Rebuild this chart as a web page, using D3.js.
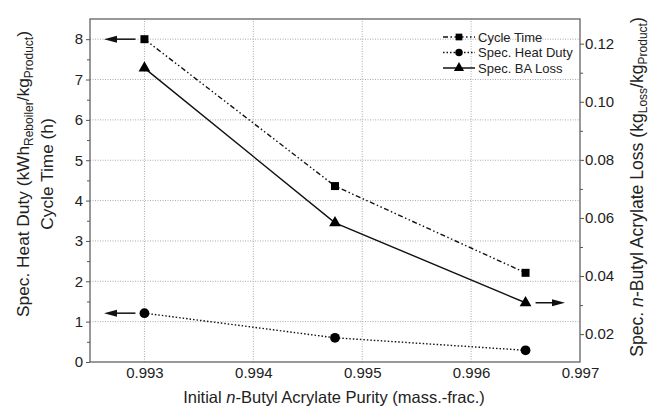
<!DOCTYPE html>
<html>
<head>
<meta charset="utf-8">
<script src="https://cdn.jsdelivr.net/npm/d3@7"></script>
<style>
  body { margin: 0; background: #fff; }
  svg text { font-family: "Liberation Sans", Arial, sans-serif; fill: #222; }
</style>
</head>
<body>
<div id="chart"></div>
<script>
// Data
const purity = [0.993, 0.99475, 0.9965]
const cycleTime = [8.0, 4.36, 2.21]
const heatDuty = [1.21, 0.6, 0.29]
const baLoss = [0.1116, 0.0583, 0.0308]

const xTicks = [0.993, 0.994, 0.995, 0.996, 0.997]
const leftTicks = [0, 1, 2, 3, 4, 5, 6, 7, 8]
const rightTicks = [0.02, 0.04, 0.06, 0.08, 0.10, 0.12]
const legendNames = ["Cycle Time", "Spec. Heat Duty", "Spec. BA Loss"]

// Set up svg
const w = 654, h = 412
const margin = {left: 90, right: 74, top: 19, bottom: 50}

const svg = d3.select("#chart").append("svg")
    .attr("width", w)
    .attr("height", h)

const x = d3.scaleLinear().domain([0.9925, 0.997]).range([margin.left, w - margin.right])
const yL = d3.scaleLinear().domain([0, 8.5]).range([h - margin.bottom, margin.top])
const yR = d3.scaleLinear().domain([0.0104, 0.1285]).range([h - margin.bottom, margin.top])

const axisCol = "#555"
const gridCol = "#aaa"

// Gridlines (dotted)
svg.append("g").selectAll("line")
    .data(xTicks.slice(0, 4))
    .join("line")
    .attr("x1", d => x(d)).attr("x2", d => x(d))
    .attr("y1", yL(0)).attr("y2", margin.top)
    .attr("stroke", gridCol).attr("stroke-dasharray", "1,1.5")
svg.append("g").selectAll("line")
    .data(leftTicks.slice(1))
    .join("line")
    .attr("x1", margin.left).attr("x2", w - margin.right)
    .attr("y1", d => yL(d)).attr("y2", d => yL(d))
    .attr("stroke", gridCol).attr("stroke-dasharray", "1,1.5")

// Frame
svg.append("rect")
    .attr("x", margin.left).attr("y", margin.top)
    .attr("width", w - margin.right - margin.left)
    .attr("height", h - margin.bottom - margin.top)
    .attr("fill", "none").attr("stroke", axisCol).attr("stroke-width", 1.2)

// Axes
function styleAxis(g) {
    g.select(".domain").remove()
    g.selectAll(".tick line").attr("stroke", axisCol)
    g.selectAll("text").style("font-size", "15px").style("fill", "#222")
}

svg.append("g")
    .attr("transform", "translate(0," + yL(0) + ")")
    .call(d3.axisBottom(x).tickValues(xTicks).tickFormat(d3.format(".3f")).tickSize(0).tickPadding(5))
    .call(styleAxis)

svg.append("g")
    .attr("transform", "translate(" + margin.left + ",0)")
    .call(d3.axisLeft(yL).tickValues(d3.range(0.5, 8.5, 1)).tickSize(3).tickFormat(""))
    .call(styleAxis)
svg.append("g")
    .attr("transform", "translate(" + margin.left + ",0)")
    .call(d3.axisLeft(yL).tickValues(leftTicks).tickSize(4).tickPadding(3).tickFormat(d3.format("d")))
    .call(styleAxis)

svg.append("g")
    .attr("transform", "translate(" + (w - margin.right) + ",0)")
    .call(d3.axisRight(yR).tickValues([0.03, 0.05, 0.07, 0.09, 0.11]).tickSize(3).tickFormat(""))
    .call(styleAxis)
svg.append("g")
    .attr("transform", "translate(" + (w - margin.right) + ",0)")
    .call(d3.axisRight(yR).tickValues(rightTicks).tickSize(4).tickPadding(1).tickFormat(d3.format(".2f")))
    .call(styleAxis)

// Series
const series = [
    {name: legendNames[0], ys: cycleTime, scale: yL, dash: "5,2.5,1.5,2.5,1.5,2.5", marker: "square"},
    {name: legendNames[1], ys: heatDuty, scale: yL, dash: "1.5,2", marker: "circle"},
    {name: legendNames[2], ys: baLoss, scale: yR, dash: null, marker: "triangle"}
]

const symbolType = {square: d3.symbolSquare, circle: d3.symbolCircle, triangle: d3.symbolTriangle}
const symbolSize = {square: 64, circle: 75, triangle: 60}

series.forEach(s => {
    const pts = purity.map((p, i) => [x(p), s.scale(s.ys[i])])
    svg.append("path")
        .attr("d", d3.line()(pts))
        .attr("fill", "none").attr("stroke", "#111").attr("stroke-width", 1.4)
        .attr("stroke-dasharray", s.dash)
    svg.append("g").selectAll("path")
        .data(pts)
        .join("path")
        .attr("d", d3.symbol(symbolType[s.marker], symbolSize[s.marker]))
        .attr("transform", d => "translate(" + d[0] + "," + d[1] + ")")
        .attr("fill", "#000")
})

// Axis arrows
function arrow(x1, x2, yy) {
    const dir = Math.sign(x2 - x1)
    svg.append("line")
        .attr("x1", x1).attr("x2", x2 - dir * 10)
        .attr("y1", yy).attr("y2", yy)
        .attr("stroke", "#111").attr("stroke-width", 1.5)
    svg.append("path")
        .attr("d", "M" + x2 + "," + yy + "L" + (x2 - dir * 13) + "," + (yy - 3.5) + "L" + (x2 - dir * 13) + "," + (yy + 3.5) + "Z")
        .attr("fill", "#111")
}
arrow(x(purity[0]) - 9, margin.left + 14, yL(cycleTime[0]))
arrow(x(purity[0]) - 9, margin.left + 14, yL(heatDuty[0]))
arrow(x(purity[2]) + 10, w - margin.right - 15, yR(baLoss[2]))

// Legend
const legend = svg.append("g").attr("transform", "translate(443,37)")
series.forEach((s, i) => {
    const row = legend.append("g").attr("transform", "translate(0," + (i * 15.5) + ")")
    row.append("line")
        .attr("x1", 0).attr("x2", 32).attr("y1", 0).attr("y2", 0)
        .attr("stroke", "#111").attr("stroke-width", 1.5)
        .attr("stroke-dasharray", s.dash)
    row.append("path")
        .attr("d", d3.symbol(symbolType[s.marker], 45))
        .attr("transform", "translate(16,0)")
        .attr("fill", "#000")
    row.append("text")
        .attr("x", 35).attr("y", 4.5)
        .style("font-size", "13px")
        .text(s.name)
})

// Axis titles
svg.append("text")
    .attr("x", (margin.left + w - margin.right) / 2 - 1)
    .attr("y", 403)
    .attr("text-anchor", "middle")
    .style("font-size", "16.5px")
    .call(t => {
        t.append("tspan").text("Initial ")
        t.append("tspan").style("font-style", "italic").text("n")
        t.append("tspan").text("-Butyl Acrylate Purity (mass.-frac.)")
    })

const subSize = "12px"
svg.append("text")
    .attr("transform", "translate(29,174) rotate(-90)")
    .attr("text-anchor", "middle")
    .style("font-size", "17.3px")
    .call(t => {
        t.append("tspan").text("Spec. Heat Duty (kWh")
        t.append("tspan").attr("dy", 4).style("font-size", subSize).text("Reboiler")
        t.append("tspan").attr("dy", -4).text("/kg")
        t.append("tspan").attr("dy", 4).style("font-size", subSize).text("Product")
        t.append("tspan").attr("dy", -4).text(")")
    })
svg.append("text")
    .attr("transform", "translate(53,174) rotate(-90)")
    .attr("text-anchor", "middle")
    .style("font-size", "17.3px")
    .text("Cycle Time (h)")

svg.append("text")
    .attr("transform", "translate(643,187) rotate(-90)")
    .attr("text-anchor", "middle")
    .style("font-size", "17.6px")
    .call(t => {
        t.append("tspan").text("Spec. ")
        t.append("tspan").style("font-style", "italic").text("n")
        t.append("tspan").text("-Butyl Acrylate Loss (kg")
        t.append("tspan").attr("dy", 4).style("font-size", subSize).text("Loss")
        t.append("tspan").attr("dy", -4).text("/kg")
        t.append("tspan").attr("dy", 4).style("font-size", subSize).text("Product")
        t.append("tspan").attr("dy", -4).text(")")
    })
</script>
</body>
</html>
